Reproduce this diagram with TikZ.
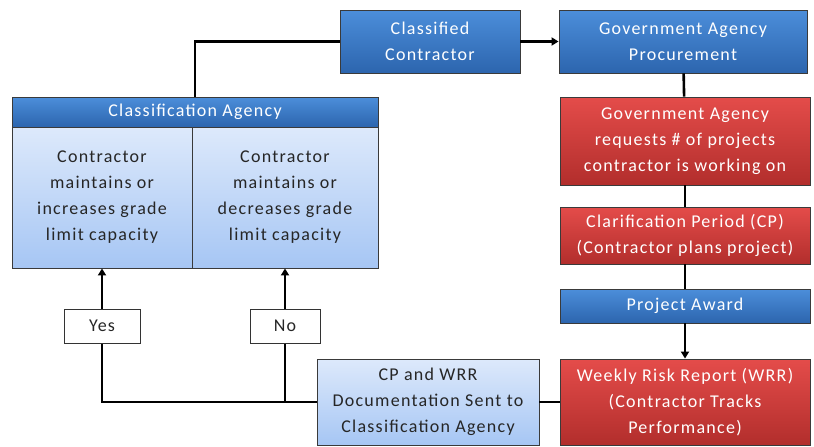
\documentclass[tikz,border=0pt]{standalone}
\usepackage{fontspec}
\setmainfont{Carlito}[LetterSpace=7]
\usetikzlibrary{arrows.meta,shadows}

\definecolor{bluetop}{HTML}{4C8EDA}
\definecolor{bluebot}{HTML}{2C65AE}
\definecolor{redtop}{HTML}{E44C4A}
\definecolor{redbot}{HTML}{B22E2C}
\definecolor{paletop}{HTML}{DDE9FB}
\definecolor{palebot}{HTML}{A6C6F4}
\definecolor{edge}{HTML}{3A3A3A}

\tikzset{
  base/.style={rectangle, draw=edge, line width=0.9pt, align=center,
    inner sep=2pt, font=\fontsize{18}{26}\selectfont,
    drop shadow={shadow xshift=1.2pt, shadow yshift=-1.2pt, opacity=0.25}},
  bluebox/.style={base, top color=bluetop, bottom color=bluebot, text=white},
  redbox/.style={base, top color=redtop, bottom color=redbot, text=white},
  palebox/.style={base, top color=paletop, bottom color=palebot, text=black!85},
  tag/.style={rectangle, draw=black!80, line width=1pt, fill=white,
    font=\fontsize{18}{26}\selectfont, text=black!85,
    drop shadow={shadow xshift=1pt, shadow yshift=-1pt, opacity=0.2}},
  wire/.style={line width=2.6pt, draw=black},
  arrow/.style={wire, -{Triangle[length=7pt, width=8pt]}}
}

\begin{document}
\begin{tikzpicture}[x=1pt, y=-1pt]
  \useasboundingbox (0,0) rectangle (814,447);

  % top row
  \node[bluebox, minimum width=180pt, minimum height=63pt] (cc) at (430,41.5)
    {Classified\\Contractor};
  \node[bluebox, minimum width=248pt, minimum height=63pt] (gap) at (683,41.5)
    {Government Agency\\Procurement};

  % right column
  \node[redbox, minimum width=250pt, minimum height=88pt] (gar) at (685,141)
    {Government Agency\\requests \# of projects\\contractor is working on};
  \node[redbox, minimum width=250pt, minimum height=57pt] (cper) at (685,235.5)
    {Clarification Period (CP)\\(Contractor plans project)};
  \node[bluebox, minimum width=250pt, minimum height=34pt] (pa) at (685,306)
    {Project Award};
  \node[redbox, minimum width=250pt, minimum height=86pt] (wrr) at (685,402)
    {Weekly Risk Report (WRR)\\(Contractor Tracks\\Performance)};

  % documentation box
  \node[palebox, minimum width=222pt, minimum height=86pt] (cpw) at (428,402)
    {CP and WRR\\Documentation Sent to\\Classification Agency};

  % classification agency panel
  \node[palebox, minimum width=180pt, minimum height=141pt] (left) at (102,197.5)
    {Contractor\\maintains or\\increases grade\\limit capacity};
  \node[palebox, minimum width=186pt, minimum height=141pt] (right) at (285,197.5)
    {Contractor\\maintains or\\decreases grade\\limit capacity};
  \node[bluebox, minimum width=366pt, minimum height=30pt] (cahead) at (195,112)
    {Classification Agency};

  % decision tags
  \node[tag, minimum width=76pt, minimum height=34pt] (yes) at (102,326) {Yes};
  \node[tag, minimum width=70pt, minimum height=34pt] (no) at (285,326) {No};

  % connectors
  \draw[wire] (cahead.north) |- (cc.west);
  \draw[arrow] (cc) -- (gap);
  \draw[wire] (gap) -- (gar);
  \draw[wire] (gar) -- (cper);
  \draw[wire] (cper) -- (pa);
  \draw[arrow] (pa) -- (wrr);
  \draw[wire] (wrr) -- (cpw);
  \draw[wire] (cpw.west) -| (yes.south);
  \draw[wire] (no.south) -- (no.south |- cpw.west);
  \draw[arrow] (yes) -- (left);
  \draw[arrow] (no) -- (right);
\end{tikzpicture}
\end{document}
